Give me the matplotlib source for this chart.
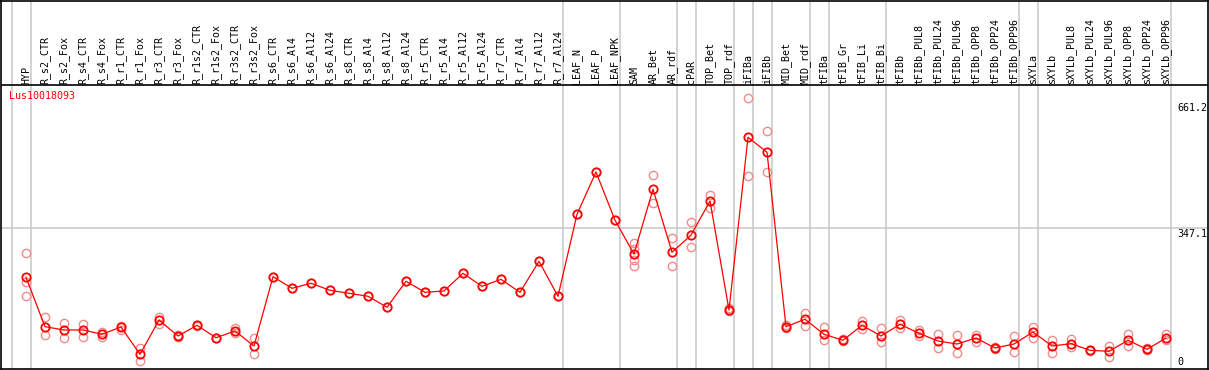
import matplotlib
matplotlib.use('Agg')
import matplotlib.pyplot as plt

gene = 'Lus10018093'

samples = ['HYP', 'R_s2_CTR', 'R_s2_Fox', 'R_s4_CTR', 'R_s4_Fox', 'R_r1_CTR', 'R_r1_Fox',
           'R_r3_CTR', 'R_r3_Fox', 'R_r1s2_CTR', 'R_r1s2_Fox', 'R_r3s2_CTR', 'R_r3s2_Fox',
           'R_s6_CTR', 'R_s6_Al4', 'R_s6_Al12', 'R_s6_Al24', 'R_s8_CTR', 'R_s8_Al4',
           'R_s8_Al12', 'R_s8_Al24', 'R_r5_CTR', 'R_r5_Al4', 'R_r5_Al12', 'R_r5_Al24',
           'R_r7_CTR', 'R_r7_Al4', 'R_r7_Al12', 'R_r7_Al24', 'LEAF_N', 'LEAF_P', 'LEAF_NPK',
           'SAM', 'AR_Bet', 'AR_rdf', 'cPAR', 'TOP_Bet', 'TOP_rdf', 'iFIBa', 'iFIBb',
           'MID_Bet', 'MID_rdf', 'tFIBa', 'tFIB_Gr', 'tFIB_Li', 'tFIB_Bi', 'tFIBb',
           'tFIBb_PUL8', 'tFIBb_PUL24', 'tFIBb_PUL96', 'tFIBb_OPP8', 'tFIBb_OPP24',
           'tFIBb_OPP96', 'sXYLa', 'sXYLb', 'sXYLb_PUL8', 'sXYLb_PUL24', 'sXYLb_PUL96',
           'sXYLb_OPP8', 'sXYLb_OPP24', 'sXYLb_OPP96']

# mean expression per sample
means = [228.1, 108.7, 100.8, 100.8, 90.4, 108.0, 42.0, 124.9, 86.3, 112.1, 82.1, 98.3, 62.1,
         229.5, 201.5, 213.6, 196.7, 189.4, 182.2, 155.6, 218.4, 191.8, 195.0, 237.7, 206.3,
         223.2, 191.8, 266.7, 182.2, 380.3, 482.5, 365.8,
         284.4, 440.9, 288.7, 329.8, 412.4, 149.1, 566.3, 530.3,
         108.7, 126.8, 90.4, 75.9, 112.1, 86.3, 114.5,
         92.8, 74.2, 66.9, 81.4, 57.3, 66.9, 95.9, 62.1,
         67.7, 51.7, 49.3, 75.9, 54.1, 81.4]

# individual replicates
reps = [[286.1, 217.4, 183.6], [131.4, 87.9], [116.9, 80.7], [114.5, 84.6], [95.2, 84.6],
        [111.1, 100.8], [57.3, 26.6], [132.9, 115.2], [88.7, 83.8], [114.0, 110.4],
        [82.5, 81.7], [104.9, 94.2], [80.7, 42.0],
        [229.5], [201.5], [213.6], [196.7], [189.4], [182.2], [155.6], [218.4], [191.8],
        [195.0], [237.7], [206.3], [223.2], [191.8], [266.7], [182.2], [380.3], [482.5],
        [365.8],
        [311.7, 297.2, 269.9, 256.1], [474.8, 406.9], [322.3, 254.7], [361.2, 300.6],
        [426.9, 394.8], [153.9, 145.5], [661.2, 473.3], [581.6, 481.8],
        [112.8, 105.6], [141.1, 111.1], [107.3, 75.9], [77.8, 74.2], [123.2, 102.4],
        [104.9, 72.5], [124.9, 104.9],
        [100.0, 86.3], [90.4, 58.0], [88.7, 44.5], [88.7, 71.0], [59.7, 54.8], [86.3, 46.9],
        [108.7, 81.4], [76.6, 44.5],
        [78.3, 59.0], [53.6, 50.0], [62.8, 36.2], [91.1, 62.1], [56.1, 52.4], [91.1, 76.6]]

# last sample index of each group (-1 = left edge)
group_ends = [-1, 0, 28, 31, 34, 35, 37, 38, 39, 41, 42, 45, 52, 53, 60]

scale_labels = [661.2, 347.1, 0]

W, H = 1209, 370
fig = plt.figure(figsize=(W / 100, H / 100), dpi=100)

# pixel geometry of the axes box
x0, x1, ytop, ybot = 1, 1208, 1, 369
ax = fig.add_axes([x0 / W, 1 - ybot / H, (x1 - x0) / W, (ybot - ytop) / H])

# column i sits at pixel 26 + 19*i, value v at pixel 371.7 - 0.41389*v
def px_val(py):
    return (371.7 - py) / 0.41389

ax.set_xlim((x0 - 26) / 19, (x1 - 26) / 19)
ax.set_ylim(px_val(ybot), px_val(ytop))

for s in ax.spines.values():
    s.set_linewidth(1.2)
    s.set_color('black')
ax.set_xticks([])
ax.set_yticks([])

grid_c = '#c8c8c8'
for g in group_ends:
    ax.axvline(g + 0.24, color=grid_c, lw=1.1, zorder=1)
ax.axhline(347.1, color=grid_c, lw=1.1, zorder=1)

# header separator
ax.axhline(px_val(85), color='black', lw=1.2, zorder=3)
ax.axhspan(px_val(85), px_val(0), color='none')

mono = 'DejaVu Sans Mono'
for i, name in enumerate(samples):
    ax.text(i, px_val(83.5), name, rotation=90, ha='center', va='bottom',
            family=mono, fontsize=7.2, color='black', zorder=4)

ax.text((9 - 26) / 19, px_val(91), gene, ha='left', va='top', family=mono,
        fontsize=7.2, color='red', zorder=4)

xr = (1177 - 26) / 19
for v in scale_labels:
    if v == 0:
        ax.text(xr, px_val(367), '0', ha='left', va='bottom', family=mono, fontsize=7.2)
    else:
        ty = 103 if v > 600 else 229
        ax.text(xr, px_val(ty), f'{v}', ha='left', va='top', family=mono, fontsize=7.2)

xs = list(range(len(samples)))
for i, rr in enumerate(reps):
    ax.plot([i] * len(rr), rr, 'o', ms=6, mfc='none', mec='#f08c8c', mew=1.0, zorder=5)

ax.plot(xs, means, '-', color='red', lw=0.9, zorder=6)
ax.plot(xs, means, 'o', ms=6, mfc='none', mec='red', mew=1.3, zorder=7)

fig.savefig('out.png', dpi=100)
